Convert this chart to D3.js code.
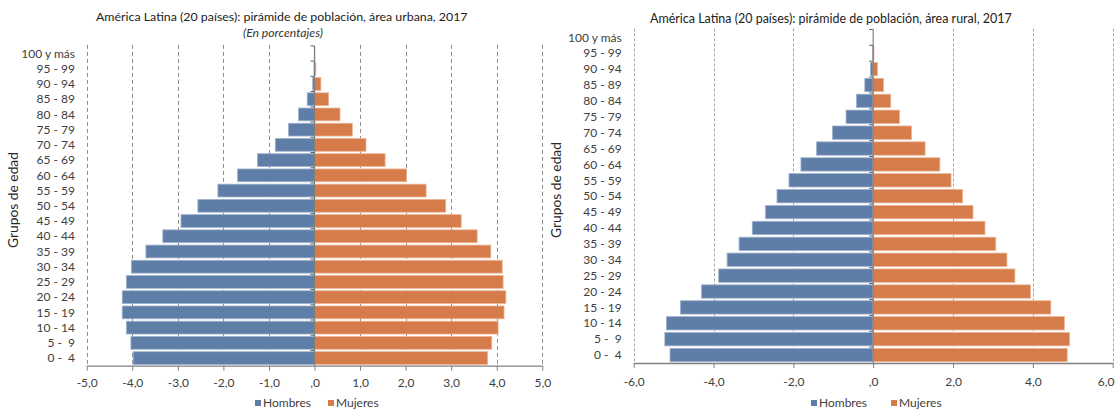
<!DOCTYPE html>
<html>
<head>
<meta charset="utf-8">
<script src="https://cdn.jsdelivr.net/npm/d3@7"></script>
<style>
  html, body { margin: 0; padding: 0; background: #fff; }
  svg { display: block; font-family: Lato, "Open Sans", sans-serif; }
  text { white-space: pre; }
</style>
</head>
<body>
<svg id="chart" width="1116" height="412"></svg>
<script>
// ---------- data ----------
const ageGroups = ["100 y más","95 - 99","90 - 94","85 - 89","80 - 84","75 - 79","70 - 74","65 - 69","60 - 64","55 - 59","50 - 54","45 - 49","40 - 44","35 - 39","30 - 34","25 - 29","20 - 24","15 - 19","10 - 14","5 -  9","0 -  4"];
const seriesNames = ["Hombres", "Mujeres"];

const urbanMen   = [0.00, 0.01, 0.04, 0.16, 0.35, 0.57, 0.86, 1.25, 1.69, 2.12, 2.56, 2.93, 3.33, 3.70, 4.02, 4.13, 4.22, 4.22, 4.13, 4.03, 3.98];
const urbanWomen = [0.01, 0.03, 0.14, 0.31, 0.56, 0.83, 1.13, 1.55, 2.02, 2.45, 2.88, 3.22, 3.57, 3.87, 4.12, 4.14, 4.20, 4.16, 4.03, 3.89, 3.80];

const ruralMen   = [0.00, 0.02, 0.07, 0.21, 0.42, 0.68, 1.02, 1.42, 1.81, 2.11, 2.41, 2.70, 3.03, 3.36, 3.66, 3.87, 4.30, 4.83, 5.18, 5.22, 5.09];
const ruralWomen = [0.00, 0.02, 0.11, 0.26, 0.44, 0.66, 0.96, 1.30, 1.67, 1.95, 2.24, 2.50, 2.80, 3.07, 3.35, 3.55, 3.94, 4.45, 4.79, 4.92, 4.86];

const urbanTickValues = [-5, -4, -3, -2, -1, 0, 1, 2, 3, 4, 5];
const urbanTickLabels = ["-5,0", "-4,0", "-3,0", "-2,0", "-1,0", ",0", "1,0", "2,0", "3,0", "4,0", "5,0"];
const ruralTickValues = [-6, -4, -2, 0, 2, 4, 6];
const ruralTickLabels = ["-6,0", "-4,0", "-2,0", ",0", "2,0", "4,0", "6,0"];

const urbanTitle = "América Latina (20 países): pirámide de población, área urbana, 2017";
const urbanSubtitle = "(En porcentajes)";
const ruralTitle = "América Latina (20 países): pirámide de población, área rural, 2017";
const yAxisTitle = "Grupos de edad";

// ---------- drawing ----------
const svg = d3.select("#chart");
const COL_MEN = "#5f7ea7";
const COL_WOMEN = "#d67c4a";
const TXT = "#404040";

function fitWidth(sel, w) {
  const node = sel.node();
  let fs = parseFloat(sel.attr("font-size"));
  const len = node.getComputedTextLength();
  if (len > 0) sel.attr("font-size", (fs * w / len).toFixed(2));
}

function pyramid(cfg) {
  const g = svg.append("g");
  const x = d3.scaleLinear().domain(cfg.domain).range(cfg.xRange);
  const y = d3.scaleBand().domain(ageGroups).range(cfg.yRange).paddingInner(0.16).paddingOuter(0.08);
  const [top, bottom] = cfg.yRange;

  // gridlines
  g.append("g").selectAll("line")
    .data(cfg.gridValues)
    .join("line")
    .attr("x1", d => Math.round(x(d)) + 0.5).attr("x2", d => Math.round(x(d)) + 0.5)
    .attr("y1", top - 1).attr("y2", bottom)
    .attr("stroke", cfg.gridColor).attr("stroke-width", 1)
    .attr("stroke-dasharray", cfg.gridDash);

  const rows = ageGroups.map((a, i) => ({ age: a, men: cfg.men[i], women: cfg.women[i] }));

  // bars
  g.append("g").selectAll("rect")
    .data(rows)
    .join("rect")
    .attr("x", d => x(-d.men))
    .attr("width", d => x(0) - x(-d.men))
    .attr("y", d => y(d.age))
    .attr("height", y.bandwidth())
    .attr("fill", COL_MEN)
    .attr("stroke", "#9fb3cf").attr("stroke-width", 0.8);

  g.append("g").selectAll("rect")
    .data(rows)
    .join("rect")
    .attr("x", x(0))
    .attr("width", d => x(d.women) - x(0))
    .attr("y", d => y(d.age))
    .attr("height", y.bandwidth())
    .attr("fill", COL_WOMEN)
    .attr("stroke", "#ecb595").attr("stroke-width", 0.8);

  // zero (category) axis with ticks between categories
  const zx = x(0);
  g.append("line")
    .attr("x1", zx).attr("x2", zx).attr("y1", top).attr("y2", bottom)
    .attr("stroke", "#808080").attr("stroke-width", 1.2);
  const bounds = ageGroups.map(a => y(a) - y.step() * y.paddingInner() / 2);
  g.append("g").selectAll("line")
    .data(bounds)
    .join("line")
    .attr("x1", zx - 4).attr("x2", zx)
    .attr("y1", d => d).attr("y2", d => d)
    .attr("stroke", "#606060").attr("stroke-width", 1);

  // category labels
  g.append("g").selectAll("text")
    .data(ageGroups)
    .join("text")
    .attr("x", cfg.labelX)
    .attr("y", d => y(d) + y.bandwidth() / 2)
    .attr("dy", "0.35em")
    .attr("text-anchor", "end")
    .attr("font-size", 12)
    .attr("fill", TXT)
    .text(d => d);

  // bottom axis
  const ax = g.append("g")
    .attr("transform", `translate(0,${bottom})`)
    .call(d3.axisBottom(x)
      .tickValues(cfg.tickValues)
      .tickFormat((d, i) => cfg.tickLabels[i])
      .tickSizeOuter(0).tickSizeInner(5).tickPadding(cfg.tickPad));
  ax.select(".domain").attr("stroke", "#808080").attr("stroke-width", 1.3);
  ax.selectAll(".tick line").attr("stroke", "#808080");
  ax.selectAll(".tick text").attr("font-size", 12).attr("fill", TXT)
    .attr("font-family", "Lato, sans-serif");
  if (cfg.lastLabelEnd) {
    // keep last tick label inside the picture
    ax.selectAll(".tick text").filter((d, i, n) => i === n.length - 1)
      .attr("text-anchor", "end")
      .attr("x", cfg.lastLabelEnd - x(cfg.tickValues[cfg.tickValues.length - 1]));
  }

  // titles
  const t = g.append("text")
    .attr("x", cfg.titleX).attr("y", cfg.titleY)
    .attr("font-size", 13).attr("fill", "#222")
    .text(cfg.title);
  fitWidth(t, cfg.titleW);
  if (cfg.subtitle) {
    const s = g.append("text")
      .attr("x", cfg.subX).attr("y", cfg.subY)
      .attr("text-anchor", "middle")
      .attr("font-size", 12).attr("font-style", "italic").attr("fill", "#333")
      .text(cfg.subtitle);
    fitWidth(s, 80);
  }
  // y axis title
  const yt = g.append("text")
    .attr("transform", `translate(${cfg.yTitleX},${cfg.yTitleY}) rotate(-90)`)
    .attr("text-anchor", "middle")
    .attr("font-size", 12).attr("fill", "#262626")
    .text(yAxisTitle);
  fitWidth(yt, 96);

  // legend
  const lg = g.append("g");
  const items = [
    { name: seriesNames[0], color: COL_MEN, x: cfg.legendX[0] },
    { name: seriesNames[1], color: COL_WOMEN, x: cfg.legendX[1] }
  ];
  items.forEach(it => {
    lg.append("rect").attr("x", it.x).attr("y", cfg.legendY - 3).attr("width", 6).attr("height", 6)
      .attr("fill", it.color);
    lg.append("text").attr("x", it.x + 8).attr("y", cfg.legendY).attr("dy", "0.35em")
      .attr("font-size", 12).attr("fill", TXT).text(it.name);
  });
}

pyramid({
  domain: [-5, 5], xRange: [86.7, 542.3], yRange: [45.9, 365.7],
  men: urbanMen, women: urbanWomen,
  gridValues: urbanTickValues.filter(v => v !== 0),
  gridColor: "#8c8c8c", gridDash: "4,3",
  tickValues: urbanTickValues, tickLabels: urbanTickLabels, tickPad: 8,
  labelX: 75,
  title: urbanTitle, titleX: 96, titleY: 21, titleW: 372,
  subtitle: urbanSubtitle, subX: 283, subY: 37,
  yTitleX: 18, yTitleY: 200,
  legendX: [255, 328], legendY: 403
});

pyramid({
  domain: [-6, 6], xRange: [633.7, 1112.7], yRange: [29.4, 363],
  men: ruralMen, women: ruralWomen,
  gridValues: ruralTickValues.filter(v => v !== 0),
  gridColor: "#a6a6a6", gridDash: "3,2",
  tickValues: ruralTickValues, tickLabels: ruralTickLabels, tickPad: 9,
  lastLabelEnd: 1114,
  labelX: 621.7,
  title: ruralTitle, titleX: 650, titleY: 23, titleW: 362,
  subtitle: null,
  yTitleX: 561, yTitleY: 190,
  legendX: [811, 891], legendY: 403
});
</script>
</body>
</html>
